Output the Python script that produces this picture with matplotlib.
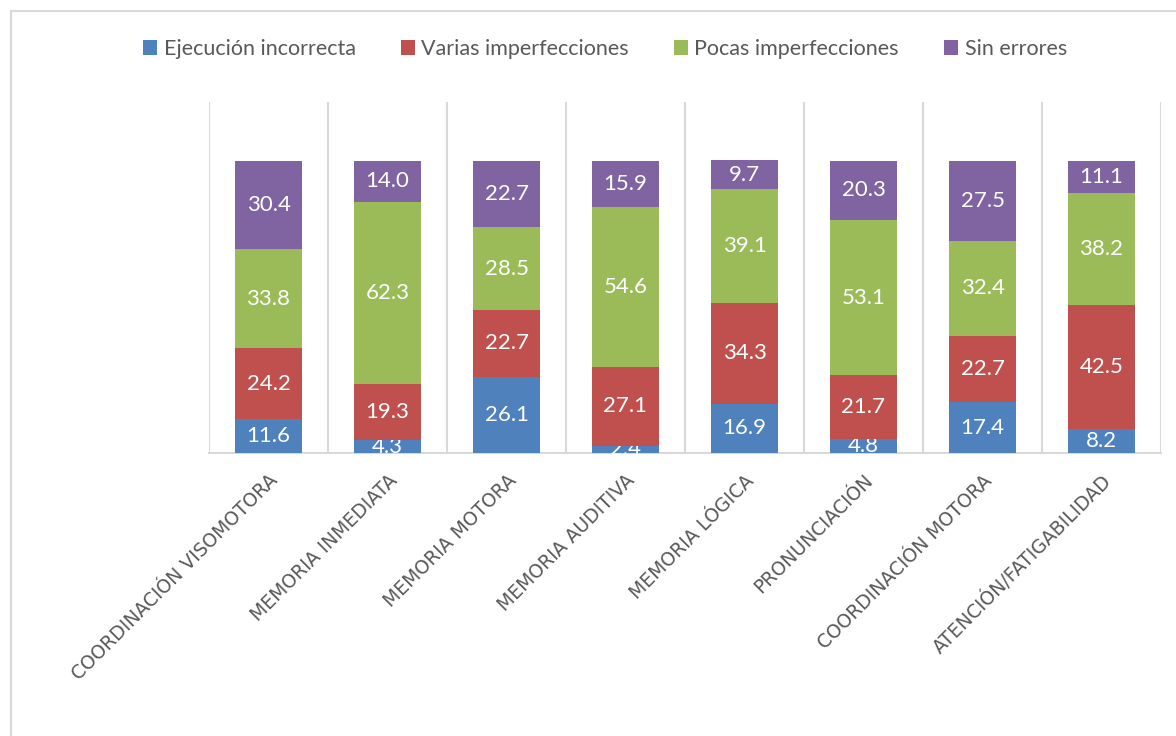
import numpy as np
from matplotlib import pyplot as plt
from matplotlib.lines import Line2D
from matplotlib.ticker import FixedLocator

categories = ['COORDINACIÓN VISOMOTORA', 'MEMORIA INMEDIATA', 'MEMORIA MOTORA',
              'MEMORIA AUDITIVA', 'MEMORIA LÓGICA', 'PRONUNCIACIÓN',
              'COORDINACIÓN MOTORA', 'ATENCIÓN/FATIGABILIDAD']
series_names = ['Ejecución incorrecta', 'Varias imperfecciones',
                'Pocas imperfecciones', 'Sin errores']
ejecucion = [11.6, 4.3, 26.1, 2.4, 16.9, 4.8, 17.4, 8.2]
varias = [24.2, 19.3, 22.7, 27.1, 34.3, 21.7, 22.7, 42.5]
pocas = [33.8, 62.3, 28.5, 54.6, 39.1, 53.1, 32.4, 38.2]
sin_errores = [30.4, 14.0, 22.7, 15.9, 9.7, 20.3, 27.5, 11.1]
colors = ['#4F81BD', '#C0504D', '#9BBB59', '#8064A2']

plt.rcParams['font.family'] = ['Lato', 'DejaVu Sans']

fig = plt.figure(figsize=(11.76, 7.36), dpi=100)
ax = fig.add_axes([209/1176, 1-453/736, (1161-209)/1176, (453-102)/736])

x = np.arange(len(categories))
bottom = np.zeros(len(categories))
for vals, name, c in zip([ejecucion, varias, pocas, sin_errores], series_names, colors):
	bars = ax.bar(x, vals, 0.56, bottom=bottom, color=c, label=name, zorder=3)
	labels = ax.bar_label(bars, labels=['%.1f' % v for v in vals], label_type='center',
	                      color='white', fontsize=16)
	for t in labels:
		t.set_clip_on(True)
	bottom += np.array(vals)

ax.set_xlim(-0.5, len(categories) - 0.5)
ax.set_ylim(0, 120)
ax.set_yticks([])
ax.set_xticks(x)
ax.set_xticklabels(categories, rotation=45, ha='right', va='top', rotation_mode='anchor',
                   fontsize=13.5, color='#595959', family='DejaVu Sans')
ax.tick_params(axis='x', length=0, pad=13)
ax.xaxis.set_minor_locator(FixedLocator(np.arange(-0.5, len(categories), 1)))
ax.grid(which='minor', axis='x', color='#D9D9D9', linewidth=1.5, zorder=0)
ax.tick_params(axis='x', which='minor', length=0)
for s in ['top', 'left', 'right']:
	ax.spines[s].set_visible(False)
ax.spines['bottom'].set_color('#D9D9D9')
ax.spines['bottom'].set_linewidth(1.5)

ax.legend(loc='center', bbox_to_anchor=(605/1176, 1-49/736), bbox_transform=fig.transFigure,
          ncol=4, frameon=False, fontsize=15.5, labelcolor='#595959', handlelength=0.65,
          handleheight=0.65, handletextpad=0.3, columnspacing=2.1)

# outer chart frame
fig.add_artist(Line2D([11/1176, 11/1176], [0, 1-11/736], color='#D9D9D9', linewidth=1.5))
fig.add_artist(Line2D([11/1176, 1], [1-11/736, 1-11/736], color='#D9D9D9', linewidth=1.5))

plt.savefig('out.png', dpi=100)
